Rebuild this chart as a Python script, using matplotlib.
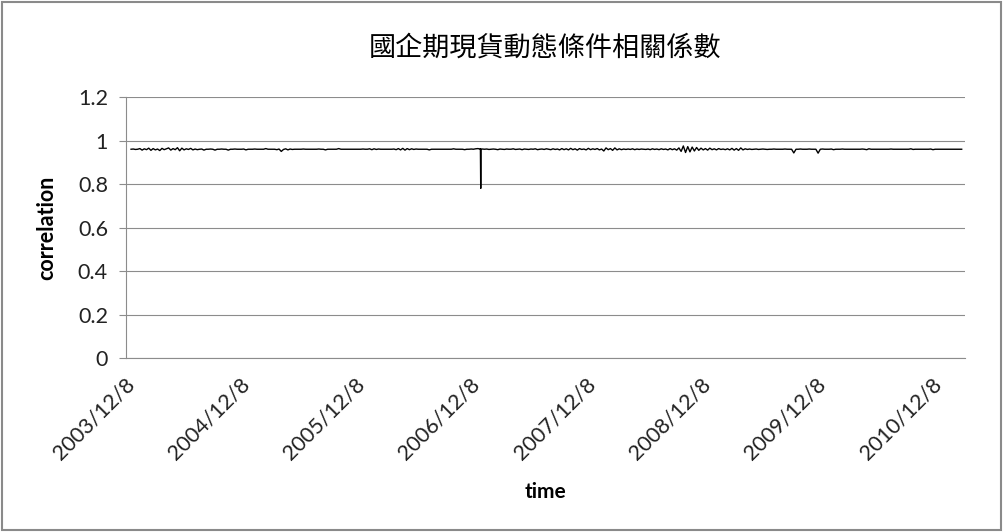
import numpy as np
import pandas as pd
import matplotlib
matplotlib.use("Agg")
import matplotlib.pyplot as plt
from matplotlib.patches import Rectangle

# weekly dynamic conditional correlation, H-share index futures vs spot
start_date = "2003-12-08"
corr = [
    0.960, 0.961, 0.959, 0.960, 0.963, 0.956, 0.962, 0.958, 0.965, 0.955,
    0.963, 0.957, 0.961, 0.954, 0.964, 0.958, 0.962, 0.966, 0.956, 0.963,
    0.958, 0.967, 0.953, 0.965, 0.957, 0.962, 0.959, 0.964, 0.957, 0.961,
    0.958, 0.960, 0.961, 0.956, 0.960, 0.960, 0.961, 0.960, 0.956, 0.960,
    0.960, 0.961, 0.960, 0.960, 0.956, 0.960, 0.960, 0.961, 0.960, 0.960,
    0.960, 0.961, 0.957, 0.960, 0.960, 0.960, 0.961, 0.960, 0.960, 0.960,
    0.960, 0.963, 0.960, 0.960, 0.960, 0.960, 0.958, 0.961, 0.950, 0.959,
    0.962, 0.957, 0.961, 0.959, 0.960, 0.960, 0.960, 0.960, 0.961, 0.960,
    0.960, 0.960, 0.960, 0.960, 0.960, 0.961, 0.960, 0.960, 0.957, 0.960,
    0.960, 0.960, 0.960, 0.960, 0.963, 0.960, 0.960, 0.960, 0.960, 0.960,
    0.960, 0.960, 0.960, 0.960, 0.960, 0.961, 0.960, 0.960, 0.962, 0.958,
    0.962, 0.959, 0.961, 0.960, 0.960, 0.960, 0.960, 0.960, 0.960, 0.961,
    0.958, 0.963, 0.957, 0.964, 0.956, 0.963, 0.958, 0.962, 0.959, 0.961,
    0.960, 0.960, 0.960, 0.960, 0.960, 0.957, 0.960, 0.960, 0.960, 0.960,
    0.960, 0.960, 0.960, 0.960, 0.960, 0.960, 0.962, 0.960, 0.960, 0.960,
    0.960, 0.958, 0.960, 0.960, 0.961, 0.960, 0.962, 0.963, 0.961, 0.961,
    0.960, 0.961, 0.959, 0.960, 0.961, 0.960, 0.958, 0.961, 0.960, 0.959,
    0.961, 0.960, 0.960, 0.962, 0.959, 0.960, 0.961, 0.958, 0.961, 0.960,
    0.959, 0.961, 0.960, 0.962, 0.958, 0.960, 0.961, 0.959, 0.962, 0.960,
    0.958, 0.962, 0.959, 0.961, 0.957, 0.963, 0.958, 0.962, 0.957, 0.964,
    0.958, 0.962, 0.956, 0.963, 0.959, 0.961, 0.957, 0.964, 0.958, 0.962,
    0.959, 0.963, 0.957, 0.961, 0.952, 0.966, 0.958, 0.963, 0.955, 0.966,
    0.957, 0.962, 0.958, 0.961, 0.959, 0.961, 0.959, 0.962, 0.958, 0.961,
    0.959, 0.961, 0.960, 0.959, 0.961, 0.958, 0.962, 0.959, 0.961, 0.958,
    0.962, 0.959, 0.961, 0.957, 0.963, 0.958, 0.962, 0.956, 0.966, 0.950,
    0.975, 0.945, 0.972, 0.948, 0.970, 0.952, 0.968, 0.955, 0.965, 0.957,
    0.963, 0.956, 0.965, 0.958, 0.962, 0.957, 0.963, 0.959, 0.961, 0.958,
    0.962, 0.957, 0.964, 0.956, 0.963, 0.955, 0.966, 0.957, 0.962, 0.959,
    0.961, 0.959, 0.960, 0.961, 0.959, 0.960, 0.961, 0.960, 0.959, 0.960,
    0.960, 0.961, 0.960, 0.960, 0.960, 0.960, 0.961, 0.960, 0.960, 0.960,
    0.943, 0.960, 0.960, 0.961, 0.960, 0.960, 0.960, 0.961, 0.960, 0.960,
    0.960, 0.942, 0.960, 0.961, 0.960, 0.960, 0.960, 0.961, 0.958, 0.960,
    0.960, 0.960, 0.961, 0.960, 0.960, 0.960, 0.960, 0.960, 0.960, 0.960,
    0.960, 0.961, 0.960, 0.958, 0.962, 0.960, 0.960, 0.960, 0.960, 0.960,
    0.960, 0.960, 0.960, 0.960, 0.961, 0.960, 0.960, 0.960, 0.960, 0.960,
    0.960, 0.960, 0.960, 0.962, 0.959, 0.960, 0.960, 0.960, 0.960, 0.960,
    0.960, 0.960, 0.961, 0.958, 0.960, 0.960, 0.960, 0.960, 0.960, 0.960,
    0.960, 0.960, 0.960, 0.960, 0.960, 0.960, 0.960,
]
# daily readings around the December 2006 drop
spike_dates = ["2006-12-19", "2006-12-20", "2006-12-21"]
spike_corr = [0.962, 0.780, 0.961]

tick_labels = ["2003/12/8", "2004/12/8", "2005/12/8", "2006/12/8",
               "2007/12/8", "2008/12/8", "2009/12/8", "2010/12/8"]
y_ticks = [0, 0.2, 0.4, 0.6, 0.8, 1, 1.2]
y_tick_labels = ["0", "0.2", "0.4", "0.6", "0.8", "1", "1.2"]

weekly = pd.Series(corr, index=pd.date_range(start_date, periods=len(corr), freq="7D"))
daily = pd.Series(spike_corr, index=pd.to_datetime(spike_dates))
series = pd.concat([weekly, daily]).sort_index()
tick_dates = pd.to_datetime(tick_labels, format="%Y/%m/%d")

plt.rcParams["font.family"] = ["Lato", "Noto Sans CJK TC", "DejaVu Sans"]

fig = plt.figure(figsize=(10.04, 5.32), dpi=100)
fig.patches.append(Rectangle((0.002, 0.003), 0.995, 0.994, transform=fig.transFigure,
                             fill=False, edgecolor="#8a8a8a", lw=1.5))

ax = fig.add_axes([0.1255, 0.327, 0.8355, 0.4906])
ax.plot(series.index, series.values, color="black", lw=1.0)

ax.set_ylim(0, 1.2)
ax.set_yticks(y_ticks)
ax.set_yticklabels(y_tick_labels)
ax.set_xlim(pd.Timestamp("2003-11-22"), pd.Timestamp("2011-03-03"))
ax.set_xticks(tick_dates)
ax.set_xticklabels(tick_labels, rotation=45, ha="right", va="center",
                   rotation_mode="anchor")

ax.grid(axis="y", color="#8c8c8c", lw=0.8)
ax.set_axisbelow(True)
for side in ["top", "right"]:
    ax.spines[side].set_visible(False)
for side in ["left", "bottom"]:
    ax.spines[side].set_color("#8c8c8c")
    ax.spines[side].set_linewidth(0.8)
ax.tick_params(axis="y", length=5, width=0.8, color="#8c8c8c", labelsize=15.5,
               labelcolor="#222222", pad=8)
ax.tick_params(axis="x", length=0, labelsize=15.5, labelcolor="#222222", pad=17)

ax.set_ylabel("correlation", fontsize=15.5, fontweight="bold", labelpad=15)
ax.set_xlabel("time", fontsize=15, fontweight="bold", labelpad=13)
ax.set_title("國企期現貨動態條件相關係數", fontsize=19.5,
             family=["Noto Sans CJK TC", "DejaVu Sans"], pad=30)

fig.savefig("out.png", dpi=100)
